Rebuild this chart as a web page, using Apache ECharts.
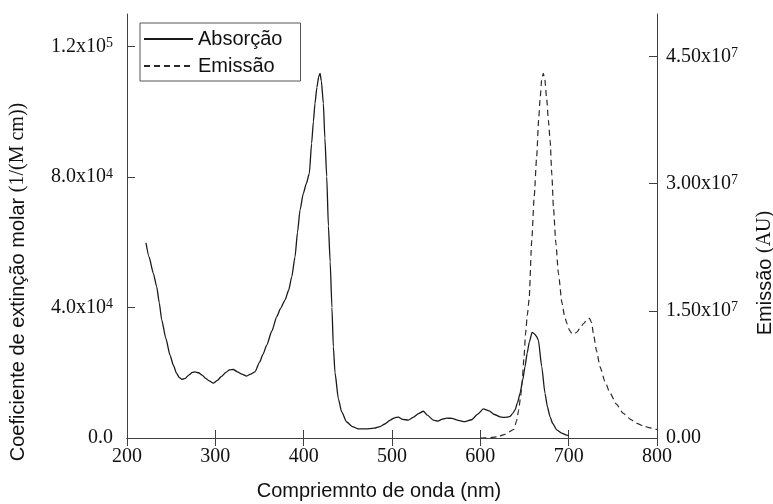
<!DOCTYPE html>
<html>
<head>
<meta charset="utf-8">
<script src="https://cdn.jsdelivr.net/npm/echarts@6/dist/echarts.min.js"></script>
<style>
html,body{margin:0;padding:0;background:#fff;}
#c{width:773px;height:504px;}
</style>
</head>
<body>
<div id="c"></div>
<script>
// Absorption (left axis): wavelength (nm) and molar extinction coefficient
const absX = [221.5,225,229.8,233.6,236.5,239.3,244,248.7,252.5,256.2,259,262,266,270,274,277,281,285,289,293,297.7,302,307,312,316,320.3,325,330,335.5,340,344.9,350,354,358.2,364,369.5,374,378.9,383,386.5,390.2,393,395.9,399.6,403,406.4,409,411,412.8,415,417,418.6,420,422.3,424,426.1,428,430,432,433.6,435.5,439.3,443,448.7,455,462,470,480,486.4,492,498,503,507.2,512,518.5,524,530,535.5,540,546.8,552,557,562,568,575,582.6,590,597,603.4,610,616,622.3,626,630,633.6,636.5,639.3,642,645,648,650.6,653,655.5,658.6,661,663.5,665.7,669.5,673.2,676,678.9,682,686.5,692,697.8,700];
const absY = [59800,55500,50500,46400,41500,36200,30500,25400,22300,19800,18600,18000,18300,19300,20100,20300,20000,19300,18300,17500,16800,17600,18900,20100,20900,21000,20300,19600,19000,19600,20300,23200,25700,28500,32800,37200,39800,42300,45300,49400,55500,63000,69900,75000,78000,81100,90300,97000,102600,107500,110800,111800,109500,102600,92000,80100,65000,54000,40000,28000,20000,12000,8000,4900,3500,2800,2800,3000,3500,4300,5500,6200,6400,5700,5500,6300,7500,8200,7000,5500,5200,5800,6100,6000,5400,5000,5600,7300,8900,8300,7200,6500,6300,6400,6600,7500,8600,10800,13700,17800,21900,26000,29500,32400,32000,31200,30000,21900,13700,9500,6500,4400,2500,1500,900,700];

// Emission (right axis): wavelength (nm) and intensity (AU)
const emX = [600,612,620,627,632,637.8,641,643.4,645.5,647.2,649.3,651.2,653.2,655.2,658.2,661,663.8,666,667.6,669.5,671.3,673,675.2,677,679,681,682.7,685.5,688.4,692.5,695.5,698.1,701,703.8,706.5,709.5,713,717,721,723.5,726,728,731.5,735.5,741,746.8,754,761.9,770,777,785,792,800];
const emY = [0,50000,150000,400000,700000,1000000,2000000,3300000,4800000,6500000,9300000,12300000,14500000,16300000,23300000,28500000,33200000,37500000,39900000,42300000,43000000,42300000,39900000,37500000,35100000,31000000,27300000,23000000,19400000,15900000,14300000,13500000,12700000,12300000,12300000,12500000,13000000,13500000,14000000,14100000,13600000,12300000,10300000,8400000,6700000,5300000,4000000,2900000,2200000,1730000,1400000,1200000,1000000];

// Axis ticks
const xTicks = {min: 200, max: 800, step: 100};
const leftTicks = {min: 0, max: 130000, step: 40000, digits: 1};
const rightTicks = {min: 0, max: 50000000, step: 15000000, digits: 2};

const seriesNames = ['Absorção', 'Emissão'];

const absData = absX.map((x, i) => [x, absY[i]]);
const emData = emX.map((x, i) => [x, emY[i]]);

const axisColor = '#404040';
const textColor = '#111';
const serif = 'Liberation Serif';
const sans = 'Liberation Sans';

function sciFormatter(step, digits) {
  return function (v) {
    if (Math.abs(v / step - Math.round(v / step)) > 1e-6) return '';
    if (v === 0) return '{n|' + (0).toFixed(digits) + '}';
    const e = Math.floor(Math.log10(v) + 1e-9);
    const m = (v / Math.pow(10, e)).toFixed(digits);
    return '{n|' + m + 'x10}{s|' + e + '}';
  };
}
const labelRich = {
  n: {fontFamily: serif, fontSize: 20, color: textColor},
  s: {fontFamily: serif, fontSize: 14, color: textColor, verticalAlign: 'top', padding: [0, 0, 4, 0]}
};

const chart = echarts.init(document.getElementById('c'), null, {renderer: 'canvas'});
chart.setOption({
  animation: false,
  backgroundColor: '#fff',
  grid: {left: 127, right: 116, top: 14, bottom: 66, containLabel: false, outerBoundsMode: 'none'},
  legend: {
    orient: 'vertical',
    left: 140, top: 23,
    data: seriesNames,
    itemWidth: 49, itemHeight: 12, itemGap: 7,
    padding: [6, 18, 5, 3],
    borderColor: '#555', borderWidth: 1,
    itemStyle: {opacity: 0},
    textStyle: {fontFamily: sans, fontSize: 20, color: textColor}
  },
  xAxis: [{
    type: 'value', position: 'bottom',
    min: xTicks.min, max: xTicks.max, interval: xTicks.step,
    name: 'Compriemnto de onda (nm)',
    nameLocation: 'middle', nameGap: 43,
    nameTextStyle: {fontFamily: sans, fontSize: 20, color: textColor, padding: [0, 26, 0, 0]},
    axisLine: {show: true, lineStyle: {color: axisColor, width: 1}},
    axisTick: {show: true, inside: true, length: 8, lineStyle: {color: axisColor}},
    axisLabel: {fontFamily: serif, fontSize: 20, color: textColor, margin: 9},
    splitLine: {show: false}
  }, {
    type: 'value', position: 'top',
    min: xTicks.min, max: xTicks.max, interval: xTicks.step,
    axisLine: {show: true, lineStyle: {color: axisColor, width: 1}},
    axisTick: {show: true, inside: true, length: 8, lineStyle: {color: axisColor}},
    axisLabel: {show: false},
    splitLine: {show: false}
  }],
  yAxis: [{
    type: 'value', position: 'left',
    min: leftTicks.min, max: leftTicks.max, interval: leftTicks.step,
    name: '{a|Coeficiente de extinção molar }{b|(1/(M cm))}',
    nameLocation: 'middle', nameGap: 99,
    nameTextStyle: {
      rich: {
        a: {fontFamily: sans, fontSize: 20, color: textColor},
        b: {fontFamily: serif, fontSize: 20, color: textColor, padding: [0, 112, 0, 0]}
      }
    },
    axisLine: {show: true, lineStyle: {color: axisColor, width: 1}},
    axisTick: {show: true, inside: true, length: 8, lineStyle: {color: axisColor}},
    axisLabel: {formatter: sciFormatter(leftTicks.step, leftTicks.digits), rich: labelRich, margin: 14, showMaxLabel: false},
    splitLine: {show: false}
  }, {
    type: 'value', position: 'right',
    min: rightTicks.min, max: rightTicks.max, interval: rightTicks.step,
    name: '{a|Emissão }{b|(AU)}',
    nameLocation: 'middle', nameGap: 98,
    nameTextStyle: {
      rich: {
        a: {fontFamily: sans, fontSize: 20, color: textColor},
        b: {fontFamily: serif, fontSize: 20, color: textColor, padding: [0, 94, 0, 0]}
      }
    },
    axisLine: {show: true, lineStyle: {color: axisColor, width: 1}},
    axisTick: {show: true, inside: true, length: 8, lineStyle: {color: axisColor}},
    axisLabel: {formatter: sciFormatter(rightTicks.step, rightTicks.digits), rich: labelRich, margin: 9, showMaxLabel: false},
    splitLine: {show: false}
  }],
  series: [{
    name: seriesNames[0], type: 'line', xAxisIndex: 0, yAxisIndex: 0,
    data: absData, symbol: 'none', smooth: 0.2, smoothMonotone: 'x',
    lineStyle: {color: '#1a1a1a', width: 1.3, type: 'solid'},
    itemStyle: {color: '#1a1a1a'}
  }, {
    name: seriesNames[1], type: 'line', xAxisIndex: 0, yAxisIndex: 1,
    data: emData, symbol: 'none', smooth: 0.2, smoothMonotone: 'x',
    lineStyle: {color: '#2a2a2a', width: 1.2, type: [6, 4]},
    itemStyle: {color: '#2a2a2a'}
  }]
});
</script>
</body>
</html>
